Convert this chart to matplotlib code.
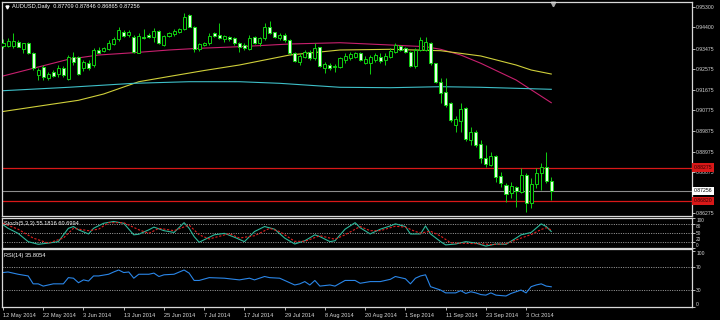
import numpy as np
import pandas as pd
import matplotlib
matplotlib.use('Agg')
import matplotlib.pyplot as plt

plt.rcParams['font.family'] = ['Liberation Sans', 'DejaVu Sans']

# daily AUDUSD bars, 12 May 2014 .. 10 Oct 2014
dates = pd.bdate_range('2014-05-12', '2014-10-10')

opens = [0.93584, 0.93584, 0.93584, 0.93772, 0.93440, 0.93702, 0.93265, 0.92318, 0.92680, 0.92174,
         0.92462, 0.92361, 0.92610, 0.92130, 0.93091, 0.93117, 0.92610, 0.92829, 0.92755, 0.93410,
         0.93379, 0.93440, 0.93672, 0.93877, 0.94209, 0.94065, 0.93990, 0.93292, 0.93990, 0.94065,
         0.93990, 0.94252, 0.93628, 0.94021, 0.94108, 0.94209, 0.94313, 0.94938, 0.94427, 0.93440,
         0.93628, 0.93702, 0.94139, 0.94065, 0.93877, 0.93990, 0.93920, 0.93728, 0.93628, 0.93440,
         0.93990, 0.93702, 0.93920, 0.94427, 0.94182, 0.93920, 0.94065, 0.93846, 0.93292, 0.92899,
         0.93091, 0.93335, 0.93047, 0.93527, 0.92610, 0.92755, 0.92654, 0.92654, 0.92973, 0.93047,
         0.93117, 0.93292, 0.92855, 0.92855, 0.92973, 0.93117, 0.92973, 0.93117, 0.93335, 0.93584,
         0.93484, 0.93335, 0.92711, 0.93410, 0.93410, 0.93702, 0.92829, 0.92025, 0.91588, 0.91082,
         0.90134, 0.90322, 0.90864, 0.89480, 0.89842, 0.89305, 0.88680, 0.88387, 0.88780, 0.87907,
         0.87514, 0.87152, 0.87440, 0.87221, 0.87951, 0.86715, 0.87558, 0.88025, 0.88287, 0.87709]
highs = [0.93877, 0.93920, 0.94139, 0.93846, 0.93728, 0.93772, 0.93335, 0.92610, 0.92755, 0.92462,
         0.92536, 0.92755, 0.92711, 0.93191, 0.93335, 0.93148, 0.92973, 0.92973, 0.93484, 0.93554,
         0.93554, 0.93846, 0.93964, 0.94401, 0.94283, 0.94283, 0.94065, 0.94139, 0.94313, 0.94139,
         0.94357, 0.94283, 0.94065, 0.94209, 0.94313, 0.94357, 0.95038, 0.94982, 0.94458, 0.93702,
         0.93772, 0.94139, 0.94182, 0.94576, 0.94065, 0.94021, 0.93990, 0.93772, 0.93728, 0.94065,
         0.94021, 0.93990, 0.94602, 0.94689, 0.94209, 0.94139, 0.94139, 0.93877, 0.93335, 0.93265,
         0.93410, 0.93410, 0.93728, 0.93554, 0.92899, 0.92855, 0.92785, 0.93117, 0.93265, 0.93335,
         0.93335, 0.93335, 0.93148, 0.93191, 0.93265, 0.93292, 0.93265, 0.93484, 0.93728, 0.93628,
         0.93554, 0.93379, 0.93484, 0.93964, 0.93990, 0.93772, 0.92855, 0.92174, 0.92174, 0.91152,
         0.90527, 0.91108, 0.90907, 0.90060, 0.89916, 0.89480, 0.89261, 0.88968, 0.88824, 0.88095,
         0.87588, 0.87658, 0.87470, 0.88243, 0.88025, 0.87807, 0.88243, 0.88488, 0.88968, 0.87846]
lows = [0.93484, 0.93554, 0.93484, 0.93519, 0.93292, 0.93250, 0.92536, 0.92100, 0.92100, 0.92100,
        0.92244, 0.92244, 0.92217, 0.92100, 0.92755, 0.92318, 0.92506, 0.92536, 0.92680, 0.93265,
        0.93335, 0.93410, 0.93628, 0.93816, 0.93990, 0.93990, 0.93292, 0.93265, 0.93877, 0.93920,
        0.93772, 0.93672, 0.93584, 0.93964, 0.94021, 0.94165, 0.94283, 0.94401, 0.93335, 0.93379,
        0.93584, 0.93628, 0.93964, 0.93877, 0.93772, 0.93816, 0.93628, 0.93335, 0.93410, 0.93410,
        0.93672, 0.93584, 0.93846, 0.94108, 0.93920, 0.93846, 0.93772, 0.93191, 0.92899, 0.92755,
        0.93047, 0.92973, 0.92973, 0.92680, 0.92418, 0.92536, 0.92462, 0.92610, 0.92829, 0.92973,
        0.93047, 0.92942, 0.92798, 0.92361, 0.92899, 0.92829, 0.92755, 0.93047, 0.93292, 0.93379,
        0.93292, 0.92680, 0.92610, 0.93379, 0.93379, 0.92755, 0.91955, 0.91082, 0.90907, 0.90278,
        0.89842, 0.89842, 0.89449, 0.89261, 0.89187, 0.88462, 0.88287, 0.88344, 0.87658, 0.87440,
        0.86785, 0.86933, 0.86567, 0.87152, 0.86348, 0.86497, 0.87370, 0.87296, 0.87588, 0.86865]
closes = [0.93728, 0.93816, 0.93816, 0.93554, 0.93702, 0.93265, 0.92610, 0.92536, 0.92217, 0.92361,
          0.92274, 0.92610, 0.92318, 0.93091, 0.92899, 0.92361, 0.92899, 0.92637, 0.93410, 0.93292,
          0.93484, 0.93728, 0.93877, 0.94283, 0.94021, 0.94182, 0.93335, 0.94021, 0.93920, 0.93964,
          0.94252, 0.93702, 0.94021, 0.94165, 0.94252, 0.94313, 0.94864, 0.94427, 0.93440, 0.93672,
          0.93728, 0.94021, 0.94021, 0.93920, 0.94021, 0.93877, 0.93702, 0.93554, 0.93484, 0.93920,
          0.93702, 0.93920, 0.94427, 0.94139, 0.93964, 0.94065, 0.93846, 0.93265, 0.92942, 0.93148,
          0.93335, 0.93047, 0.93484, 0.92711, 0.92798, 0.92610, 0.92711, 0.93047, 0.93148, 0.93235,
          0.93292, 0.92973, 0.93003, 0.93091, 0.93191, 0.92942, 0.93148, 0.93379, 0.93628, 0.93410,
          0.93335, 0.92711, 0.93410, 0.93846, 0.93772, 0.92829, 0.92025, 0.91519, 0.91008, 0.90353,
          0.90383, 0.90820, 0.89510, 0.89842, 0.89261, 0.88680, 0.88431, 0.88780, 0.87877, 0.87615,
          0.87121, 0.87470, 0.87265, 0.87951, 0.86715, 0.87558, 0.88025, 0.88287, 0.87709, 0.87256]

# moving averages (bar index, value)
ma_red_idx = [0, 6, 13, 19, 26, 33, 39, 47, 57, 67, 77, 84, 87, 91, 95, 102, 109]
ma_red = [0.92274, 0.92610, 0.93003, 0.93191, 0.93292, 0.93410, 0.93484, 0.93554, 0.93672,
          0.93728, 0.93628, 0.93554, 0.93440, 0.93191, 0.92829, 0.92100, 0.91108]
ma_yel_idx = [0, 10, 15, 20, 27, 33, 40, 47, 57, 67, 77, 87, 95, 102, 105, 109]
ma_yel = [0.90724, 0.91051, 0.91213, 0.91488, 0.92025, 0.92252, 0.92514, 0.92755, 0.93191,
          0.93410, 0.93440, 0.93379, 0.93148, 0.92755, 0.92536, 0.92361]
ma_cyan_idx = [0, 13, 26, 37, 47, 55, 67, 77, 87, 95, 109]
ma_cyan = [0.91632, 0.91781, 0.91955, 0.92025, 0.92025, 0.91955, 0.91781, 0.91763, 0.91807,
           0.91781, 0.91693]

resistance = 0.88275
support = 0.86820
bid = 0.87256
price_ticks = [0.95300, 0.94400, 0.93475, 0.92575, 0.91675, 0.90775, 0.89875, 0.88975, 0.88075, 0.86275]

sto_main_idx = [0, 1, 3, 5, 7, 9, 11, 13, 14, 15, 17, 18, 20, 22, 24, 26, 27, 29, 30, 32,
                34, 36, 37, 38, 39, 42, 44, 46, 48, 50, 52, 54, 56, 58, 60, 62, 63, 65, 66, 68,
                70, 71, 73, 75, 77, 78, 80, 81, 83, 84, 85, 87, 88, 90, 92, 94, 96, 98, 100, 102,
                103, 105, 107, 108, 109]
sto_main = [78, 66, 49, 21, 12, 16, 21, 66, 72, 61, 47, 66, 83, 89, 83, 44, 46, 61, 70, 58,
            52, 85, 66, 38, 19, 44, 49, 36, 21, 55, 72, 63, 33, 13, 24, 44, 38, 21, 24, 63,
            85, 68, 47, 63, 74, 81, 72, 47, 47, 74, 47, 21, 10, 13, 21, 16, 6, 13, 12, 33,
            44, 52, 81, 72, 55.18]
sto_sig_idx = [0, 3, 6, 9, 12, 14, 17, 19, 21, 24, 27, 29, 31, 34, 37, 39, 41, 45, 47, 50,
               53, 55, 58, 60, 63, 66, 68, 71, 73, 75, 78, 80, 82, 83, 85, 87, 89, 92, 95, 97,
               100, 103, 105, 107, 108, 109]
sto_sig = [83, 63, 33, 16, 33, 66, 58, 63, 85, 85, 61, 49, 66, 58, 77, 44, 30, 48, 33, 41,
           66, 55, 22, 22, 41, 29, 44, 72, 58, 58, 73, 70, 55, 50, 56, 40, 17, 15, 14, 11,
           14, 33, 45, 62, 68, 60.70]

rsi_idx = [0, 1, 3, 5, 6, 7, 8, 10, 12, 13, 14, 15, 16, 17, 18, 19, 21, 22, 23, 24,
           25, 26, 27, 29, 30, 31, 32, 34, 36, 37, 38, 39, 41, 44, 47, 49, 50, 52, 53, 55,
           58, 59, 60, 61, 62, 63, 65, 66, 68, 70, 71, 73, 75, 77, 78, 79, 80, 81, 82, 83,
           84, 85, 86, 87, 88, 90, 91, 92, 93, 94, 95, 96, 97, 98, 100, 101, 103, 104, 105, 106,
           107, 108, 109]
rsi = [61, 62, 58, 55, 41, 41, 37, 41, 41, 52, 51, 43, 48, 46, 55, 55, 58, 62, 65.5, 61,
       62, 51, 58, 58, 60, 54, 57, 58, 65.5, 60, 47, 47, 52, 51, 48, 51, 48, 54, 52, 51,
       39, 41, 45, 39, 47, 37, 39, 37, 47, 47, 42, 45, 45, 49, 54, 52, 50, 41, 51, 55,
       57, 36, 33, 30, 25, 25, 29, 24, 27, 25, 22, 21, 25, 21, 19.5, 24, 30, 25, 36, 39,
       41, 37, 35.81]

FG = '#D8D8D8'
GREEN = '#10D010'
PALE = '#E4FFE4'
RED = '#D81818'
FS = 4.1

W, H = 720, 320
fig = plt.figure(figsize=(W / 100, H / 100), dpi=100, facecolor='black')


def px_axes(x0, y0, x1, y1):
    ax = fig.add_axes([x0 / W, 1 - y1 / H, (x1 - x0) / W, (y1 - y0) / H])
    ax.set_facecolor('black')
    for s in ax.spines.values():
        s.set_color(FG)
        s.set_linewidth(0.9)
    ax.set_xlim(-0.2, 136.98)
    ax.yaxis.tick_right()
    ax.tick_params(colors=FG, labelsize=FS, length=2, width=0.6, pad=1)
    return ax


ax = px_axes(2, 2, 692, 216)
ax_sto = px_axes(2, 217.5, 692, 248)
ax_rsi = px_axes(2, 249, 692, 307)

x = np.arange(len(dates))
o, h, l, c = map(np.array, (opens, highs, lows, closes))
up = c >= o
bottom = np.minimum(o, c)
height = np.maximum(np.abs(c - o), 0.00012)

# price panel
ax.vlines(x, l, h, color=GREEN, lw=0.7, zorder=2)
ax.bar(x[up], height[up], bottom=bottom[up], width=0.6, facecolor='black',
       edgecolor=GREEN, lw=0.7, zorder=3)
ax.bar(x[~up], height[~up], bottom=bottom[~up], width=0.6, facecolor=PALE,
       edgecolor=GREEN, lw=0.7, zorder=3)
ax.plot(ma_red_idx, ma_red, color='#C8206E', lw=0.8, zorder=1)
ax.plot(ma_yel_idx, ma_yel, color='#CFCF3A', lw=0.8, zorder=1)
ax.plot(ma_cyan_idx, ma_cyan, color='#3EBFC8', lw=0.8, zorder=1)
ax.axhline(resistance, color=RED, lw=0.9, zorder=1)
ax.axhline(support, color=RED, lw=0.9, zorder=1)
ax.axhline(bid, color='#8C8C8C', lw=0.8, zorder=1)
ax.set_ylim(0.86160, 0.95506)
ax.set_yticks(price_ticks)
ax.set_yticklabels([f'{v:.5f}' for v in price_ticks], fontsize=3.7)
ax.set_xticks([])

yt = ax.get_yaxis_transform()
for val, fc, tc in [(resistance, RED, '#300000'), (support, RED, '#300000'), (bid, 'white', 'black')]:
    ax.text(1.0025, val, f'{val:.5f}', transform=yt, fontsize=3.7, color=tc,
            ha='left', va='center', clip_on=False, zorder=6,
            bbox=dict(boxstyle='square,pad=0.35', fc=fc, ec='none'))

ax.text(0.014, 0.977, 'AUDUSD,Daily  0.87709 0.87846 0.86865 0.87256', transform=ax.transAxes,
        fontsize=FS, color='white', ha='left', va='center')
ax.plot([0.0075], [0.977], marker='v', ms=2.2, color='white', transform=ax.transAxes,
        clip_on=False)
ax.plot([109.4], [0.99], marker='v', ms=3.2, color='#A8A8A8',
        transform=ax.get_xaxis_transform(), clip_on=False)

# stochastic panel
for lvl in (20, 50, 80):
    ax_sto.axhline(lvl, color='#BBBBBB', lw=0.6, ls=(0, (1.2, 1.6)))
ax_sto.plot(sto_main_idx, sto_main, color='#2CB89A', lw=0.8)
ax_sto.plot(sto_sig_idx, sto_sig, color='#E02020', lw=0.8, ls=(0, (2, 1.5)))
ax_sto.set_ylim(-0.5, 102.5)
ax_sto.set_yticks([100, 80, 50, 20, 0])
ax_sto.set_yticklabels(['100', '80', '50', '20', '0'], fontsize=3.4)
sl = ax_sto.get_yticklabels()
for lab, va in zip(sl, ['top', 'top', 'center', 'bottom', 'bottom']):
    lab.set_va(va)
ax_sto.set_xticks([])
ax_sto.text(0.003, 0.80, 'Stoch(5,3,3) 55.1816 60.6994', transform=ax_sto.transAxes,
            fontsize=FS, color='white', ha='left', va='center')

# RSI panel
for lvl in (30, 70):
    ax_rsi.axhline(lvl, color='#BBBBBB', lw=0.6, ls=(0, (1.2, 1.6)))
ax_rsi.plot(rsi_idx, rsi, color='#2A86E8', lw=0.8)
ax_rsi.set_ylim(0, 102.7)
ax_rsi.set_yticks([100, 70, 30, 0])
ax_rsi.set_yticklabels(['100', '70', '30', '0'], fontsize=3.6)
rl = ax_rsi.get_yticklabels()
rl[0].set_va('top')
rl[-1].set_va('bottom')
ax_rsi.text(0.003, 0.88, 'RSI(14) 35.8054', transform=ax_rsi.transAxes,
            fontsize=FS, color='white', ha='left', va='center')

tick_pos = x[::8]
ax_rsi.set_xticks(tick_pos)
ax_rsi.set_xticklabels([f'{d.day} {d.strftime("%b %Y")}' for d in dates[::8]], ha='left')
ax_rsi.tick_params(axis='x', length=2.5, pad=1.5)

fig.savefig('out.png', dpi=100, facecolor='black')
